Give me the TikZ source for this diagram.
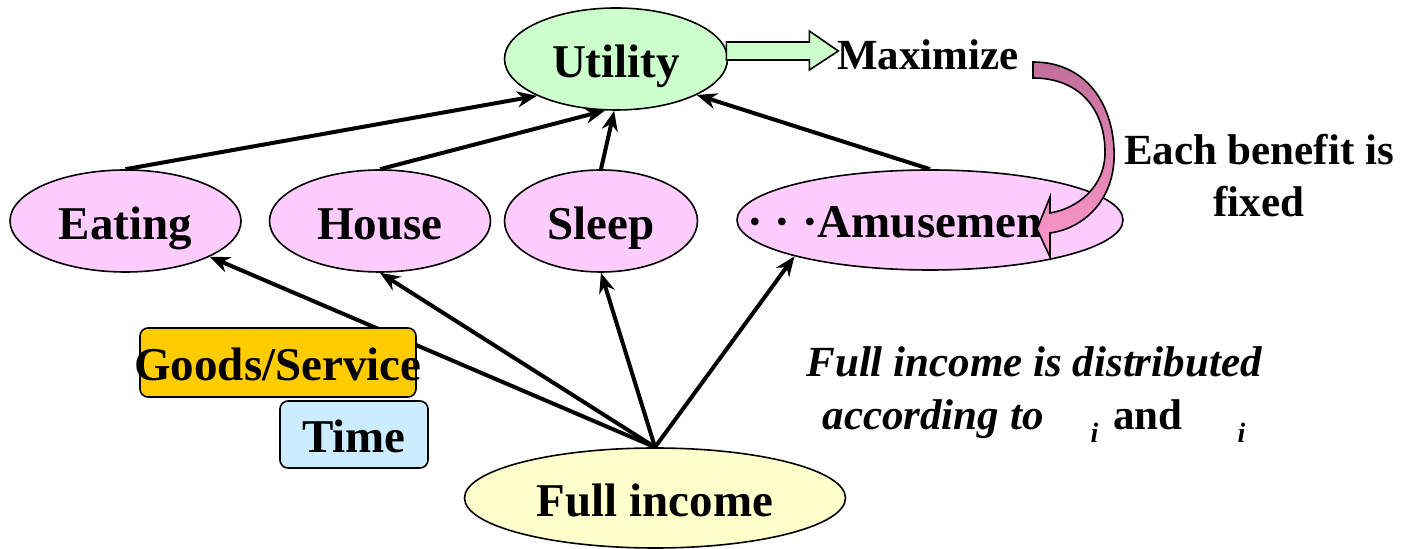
\documentclass[tikz,border=0pt]{standalone}
\usepackage{fontspec}
\setmainfont{Liberation Serif}
\usepackage{tikz}
\usetikzlibrary{shapes.geometric,arrows.meta}

\definecolor{pinkfill}{HTML}{FFCCFF}
\definecolor{greenfill}{HTML}{CCFFCC}
\definecolor{yellowfill}{HTML}{FFFFCC}
\definecolor{goldfill}{HTML}{FFCC00}
\definecolor{bluefill}{HTML}{CCECFF}
\definecolor{curvetop}{HTML}{C06E9A}
\definecolor{curvebot}{HTML}{FF99CC}

\newcommand{\bigtext}{\fontsize{23.5}{26}\selectfont\bfseries}
\newcommand{\subi}{\raisebox{-6.5pt}{\fontsize{14}{14}\selectfont\bfseries\itshape i}}

\tikzset{
  benefit/.style={ellipse, draw=black, line width=0.8pt, fill=pinkfill, inner sep=0pt,
    text height=23pt, text depth=4pt, font=\bigtext, minimum height=51pt},
  flow/.style={line width=2pt, -{Stealth[length=10pt,width=8pt]}},
  tagbox/.style={rectangle, rounded corners=4pt, draw=black, line width=0.8pt, inner sep=0pt,
    font=\bigtext, text height=22pt, text depth=4pt},
  plain/.style={inner sep=0pt, anchor=base}
}

\begin{document}
\begin{tikzpicture}[x=0.5pt,y=-0.5pt]
\useasboundingbox (0,0) rectangle (1403,549);

\node[benefit, fill=greenfill, minimum width=111.5pt] (utility) at (616,59) {Utility};
\node[benefit, minimum width=115.5pt] (eating) at (125.5,221) {Eating};
\node[benefit, minimum width=110.5pt] (house) at (380,221) {House};
\node[benefit, minimum width=96.5pt] (sleep) at (601,221) {Sleep};
\node[benefit, minimum width=193pt, minimum height=50pt] (amuse) at (930,220) {};
\node[plain, anchor=base west, font=\bigtext] (amusetxt) at (747,238) {· · ·Amusemen};
\node[benefit, fill=yellowfill, minimum width=190.5pt, minimum height=50pt] (fullinc) at (655,498) {Full income};

% benefits to utility
\draw[flow] (eating.north) -- (utility.205);
\draw[flow] (house.north) -- (utility.258);
\draw[flow] (sleep.north) -- (utility.268);
\draw[flow] (amuse.north) -- (utility.336);

% full income to benefits
\draw[flow] (fullinc.north) -- (eating.337);
\draw[flow] (fullinc.north) -- (house.south);
\draw[flow] (fullinc.north) -- (sleep.south);
\draw[flow] (fullinc.north) -- (amuse.195);

\node[tagbox, fill=goldfill, minimum width=138pt, minimum height=34.5pt] (goods) at (278,362.5) {\makebox[100pt]{Goods/Service}};
\node[tagbox, fill=bluefill, minimum width=74pt, minimum height=33.5pt] (time) at (354,434.5) {Time};

\filldraw[fill=greenfill, draw=black, line width=0.8pt] (utility.east) ++(-2,-17) -- ++(83,0) -- ++(0,-11)
  -- ++(29,20) -- ++(-29,19) -- ++(0,-10) -- ++(-83,0) -- cycle;
\node[plain, font=\fontsize{21.5}{24}\selectfont\bfseries] (maximize) at (928,70) {Maximize};

\draw[top color=curvetop, bottom color=curvebot, line width=0.8pt] (1033,62)
  .. controls (1090,62) and (1116,110) .. (1114,160)
  .. controls (1112,200) and (1085,228) .. (1050,233) -- (1050,257) -- (1037,229) -- (1050,197) -- (1050,213)
  .. controls (1080,208) and (1104,185) .. (1105,155)
  .. controls (1106,110) and (1080,78) .. (1033,78) -- cycle;
\node[plain, align=center, font=\fontsize{21.5}{26}\selectfont\bfseries] (fixed) at (1259,217) {Each benefit is\\fixed};

\node[plain, align=center, font=\fontsize{21.5}{26.5}\selectfont\bfseries\itshape] (distrib) at (1034,430)
  {Full income is distributed\\according to\hspace{23.5pt}\subi\hspace{7.5pt}\textup{and}\hspace{27.5pt}\subi};
\end{tikzpicture}
\end{document}
